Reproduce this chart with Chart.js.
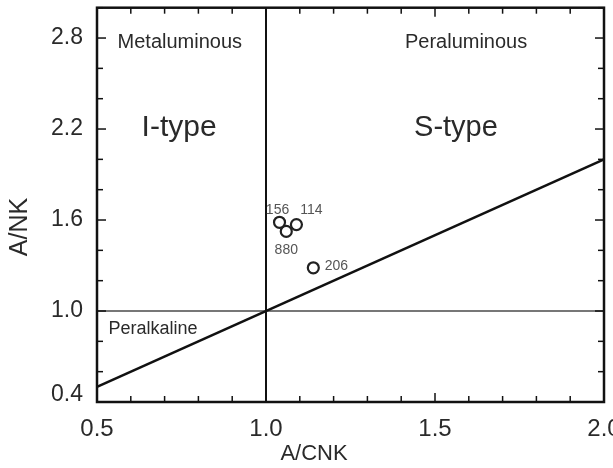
<!DOCTYPE html>
<html>
<head>
<meta charset="utf-8">
<script src="https://cdn.jsdelivr.net/npm/chart.js@4"></script>
<style>
  html, body { margin: 0; padding: 0; background: #fff; }
</style>
</head>
<body>
<canvas id="chart" width="613" height="468"></canvas>
<script>
// Sample analyses (A/CNK vs A/NK)
const sampleIds = ['156', '114', '880', '206'];
const acnk = [1.04, 1.09, 1.06, 1.14];
const ank = [1.585, 1.57, 1.525, 1.285];

// Axis ticks
const xTicks = [0.5, 1.0, 1.5, 2.0];
const xTickLabels = ['0.5', '1.0', '1.5', '2.0'];
const yTicks = [0.4, 1.0, 1.6, 2.2, 2.8];
const yTickLabels = ['0.4', '1.0', '1.6', '2.2', '2.8'];
const xMinor = [0.6, 0.7, 0.8, 0.9, 1.1, 1.2, 1.3, 1.4, 1.6, 1.7, 1.8, 1.9];
const yMinor = [0.6, 0.8, 1.2, 1.4, 1.8, 2.0, 2.4, 2.6, 3.0];
const xRange = [0.5, 2.0];
const yRange = [0.4, 3.0];

// Field boundaries
const boundaryX = 1.0;
const boundaryY = 1.0;
const diagonal = [{ x: 0.5, y: 0.5 }, { x: 2.0, y: 2.0 }];

// Field names: [text, x, y, size]
const fieldNames = [
  ['Metaluminous', 0.745, 2.77, 20],
  ['Peraluminous', 1.592, 2.77, 20],
  ['I-type', 0.743, 2.21, 30],
  ['S-type', 1.562, 2.21, 29],
  ['Peralkaline', 0.666, 0.88, 18]
];

// label offsets in px for each sample id
const labelOffsets = { '156': [-2, -12], '114': [15, -14], '880': [0, 19], '206': [23, -2] };

const FONT = '"Liberation Sans", Arial, Helvetica, sans-serif';
const TEXT = '#2a2a2a';

const frame = {
  id: 'frame',
  afterDatasetsDraw(chart) {
    const { ctx, chartArea: a, scales: { x, y } } = chart;
    ctx.save();

    // field names
    ctx.fillStyle = TEXT;
    ctx.textAlign = 'center';
    ctx.textBaseline = 'middle';
    fieldNames.forEach(([t, fx, fy, size]) => {
      ctx.font = size + 'px ' + FONT;
      ctx.fillText(t, x.getPixelForValue(fx), y.getPixelForValue(fy));
    });

    // sample labels
    ctx.font = '14px ' + FONT;
    ctx.fillStyle = '#555';
    sampleIds.forEach((id, i) => {
      const off = labelOffsets[id];
      ctx.fillText(id, x.getPixelForValue(acnk[i]) + off[0], y.getPixelForValue(ank[i]) + off[1]);
    });

    // inward ticks on all four sides
    ctx.strokeStyle = '#111';
    ctx.lineWidth = 1.5;
    const tick = (x1, y1, x2, y2) => { ctx.beginPath(); ctx.moveTo(x1, y1); ctx.lineTo(x2, y2); ctx.stroke(); };
    xTicks.concat(xMinor).forEach(v => {
      const px = x.getPixelForValue(v);
      const len = xTicks.includes(v) ? 9 : 6;
      tick(px, a.bottom, px, a.bottom - len);
      tick(px, a.top, px, a.top + len);
    });
    yTicks.concat(yMinor).forEach(v => {
      const py = y.getPixelForValue(v);
      const len = yTicks.includes(v) ? 9 : 6;
      tick(a.left, py, a.left + len, py);
      tick(a.right, py, a.right - len, py);
    });

    // frame
    ctx.lineWidth = 2.5;
    ctx.strokeRect(a.left, a.top, a.right - a.left, a.bottom - a.top);

    // y tick labels (lowest one nudged up clear of the x labels)
    ctx.fillStyle = TEXT;
    ctx.font = '23px ' + FONT;
    ctx.textAlign = 'right';
    yTicks.forEach((v, i) => {
      const py = y.getPixelForValue(v) - (i === 0 ? 7 : 0);
      ctx.fillText(yTickLabels[i], a.left - 14, py);
    });

    // axis titles
    ctx.textAlign = 'center';
    ctx.font = '22px ' + FONT;
    ctx.fillText('A/CNK', 314, 454);
    ctx.font = '25px ' + FONT;
    ctx.translate(20, 227);
    ctx.rotate(-Math.PI / 2);
    ctx.fillText('A/NK', 0, 0);
    ctx.restore();
  }
};

new Chart(document.getElementById('chart'), {
  type: 'scatter',
  data: {
    datasets: [
      {
        type: 'line',
        data: [{ x: xRange[0], y: boundaryY }, { x: xRange[1], y: boundaryY }],
        borderColor: '#777', borderWidth: 2, pointRadius: 0, order: 3
      },
      {
        type: 'line',
        data: [{ x: boundaryX, y: yRange[0] }, { x: boundaryX, y: yRange[1] }],
        borderColor: '#111', borderWidth: 2, pointRadius: 0, order: 2
      },
      {
        type: 'line',
        data: diagonal,
        borderColor: '#111', borderWidth: 2.5, pointRadius: 0, order: 2
      },
      {
        data: acnk.map((v, i) => ({ x: v, y: ank[i] })),
        pointStyle: 'circle', pointRadius: 5.5, pointBorderWidth: 2.2,
        borderColor: '#222', backgroundColor: 'rgba(0,0,0,0)', order: 1
      }
    ]
  },
  options: {
    responsive: false,
    animation: false,
    devicePixelRatio: 1,
    layout: { padding: { top: 7, right: 9, left: 0, bottom: 0 } },
    plugins: { legend: { display: false }, tooltip: { enabled: false } },
    scales: {
      x: {
        type: 'linear', min: xRange[0], max: xRange[1],
        afterBuildTicks(s) { s.ticks = xTicks.map(v => ({ value: v })); },
        afterFit(s) { s.height = 66; s.paddingLeft = 0; s.paddingRight = 0; },
        grid: { display: false, drawTicks: false },
        border: { display: false },
        ticks: {
          padding: 13, color: TEXT, maxRotation: 0, autoSkip: false,
          font: { family: FONT, size: 24 },
          callback: (v) => xTickLabels[xTicks.indexOf(v)]
        }
      },
      y: {
        type: 'linear', min: yRange[0], max: yRange[1],
        afterBuildTicks(s) { s.ticks = yTicks.map(v => ({ value: v })); },
        afterFit(s) { s.width = 97; s.paddingTop = 0; s.paddingBottom = 0; },
        grid: { display: false, drawTicks: false },
        border: { display: false },
        ticks: { display: false }
      }
    }
  },
  plugins: [frame]
});
</script>
</body>
</html>
